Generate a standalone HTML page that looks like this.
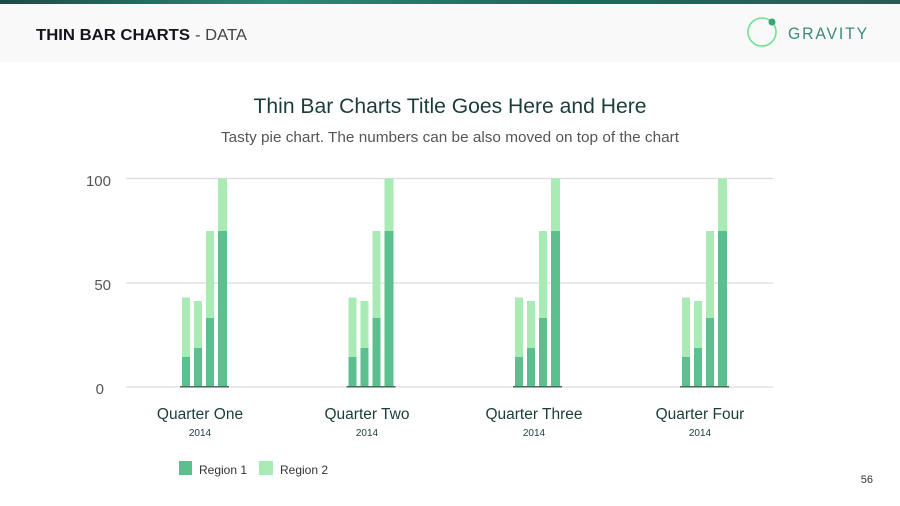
<!DOCTYPE html>
<html><head><meta charset="utf-8"><style>
html,body{margin:0;padding:0;background:#fff;width:900px;height:506px;overflow:hidden}
svg{display:block;font-family:"Liberation Sans",sans-serif}
</style></head><body>
<svg width="900" height="506" viewBox="0 0 900 506" xmlns="http://www.w3.org/2000/svg">
<defs><linearGradient id="tg" x1="0" x2="1"><stop offset="0" stop-color="#1d4a45"/><stop offset="0.3" stop-color="#2d8a72"/><stop offset="0.6" stop-color="#1f6a5c"/><stop offset="1" stop-color="#2a5a55"/></linearGradient></defs>
<rect x="0" y="0" width="900" height="62" fill="#f9f9f9"/>
<rect x="0" y="0" width="900" height="4" fill="url(#tg)"/>
<text x="36" y="40" font-size="16" font-weight="bold" fill="#15151f" textLength="154" lengthAdjust="spacingAndGlyphs">THIN BAR CHARTS</text>
<text x="195" y="40" font-size="16" fill="#444" textLength="52" lengthAdjust="spacingAndGlyphs">- DATA</text>
<circle cx="762" cy="32" r="14" fill="none" stroke="#6ee08f" stroke-width="1.6"/>
<circle cx="772" cy="22" r="3.5" fill="#3aa577"/>
<text x="788" y="39" font-size="17" fill="#3c8a78" textLength="81" lengthAdjust="spacingAndGlyphs" letter-spacing="2">GRAVITY</text>
<text x="450" y="113" font-size="21" fill="#1b3d3a" text-anchor="middle" textLength="393" lengthAdjust="spacingAndGlyphs">Thin Bar Charts Title Goes Here and Here</text>
<text x="450" y="142" font-size="15" fill="#555" text-anchor="middle" textLength="458" lengthAdjust="spacingAndGlyphs">Tasty pie chart. The numbers can be also moved on top of the chart</text>
<g stroke="#dcdcdc" stroke-width="1.3">
<line x1="126" y1="178.5" x2="773" y2="178.5"/><line x1="126" y1="283" x2="773" y2="283"/><line x1="126" y1="387" x2="773" y2="387"/></g>
<g font-size="15" fill="#555" text-anchor="end">
<text x="111" y="186">100</text><text x="111" y="290">50</text><text x="104" y="394">0</text></g>
<g id="grp">
<rect x="182" y="297.5" width="8" height="89.5" fill="#a8ebb5"/><rect x="182" y="357" width="8" height="30" fill="#5bbf8e"/>
<rect x="194" y="301" width="8" height="86" fill="#a8ebb5"/><rect x="194" y="348" width="8" height="39" fill="#5bbf8e"/>
<rect x="206" y="231" width="8" height="156" fill="#a8ebb5"/><rect x="206" y="318" width="8" height="69" fill="#5bbf8e"/>
<rect x="218" y="178.5" width="9" height="208.5" fill="#a8ebb5"/><rect x="218" y="231" width="9" height="156" fill="#5bbf8e"/>
<rect x="180" y="386" width="49" height="1.5" fill="#4a6a60"/>
</g>
<use href="#grp" x="166.5"/><use href="#grp" x="333"/><use href="#grp" x="500"/>
<g fill="#1b3d3a" text-anchor="middle">
<text x="200" y="419" font-size="15.5">Quarter One</text><text x="200" y="436" font-size="10">2014</text>
<text x="367" y="419" font-size="15.5">Quarter Two</text><text x="367" y="436" font-size="10">2014</text>
<text x="534" y="419" font-size="15.5">Quarter Three</text><text x="534" y="436" font-size="10">2014</text>
<text x="700" y="419" font-size="15.5">Quarter Four</text><text x="700" y="436" font-size="10">2014</text>
</g>
<rect x="179" y="461" width="13" height="14" fill="#5bbf8e"/>
<text x="199" y="474" font-size="12" fill="#333">Region 1</text>
<rect x="259" y="461" width="14" height="14" fill="#a8ebb5"/>
<text x="280" y="474" font-size="12" fill="#333">Region 2</text>
<text x="873" y="483" font-size="11" fill="#333" text-anchor="end">56</text>
</svg>
</body></html>
